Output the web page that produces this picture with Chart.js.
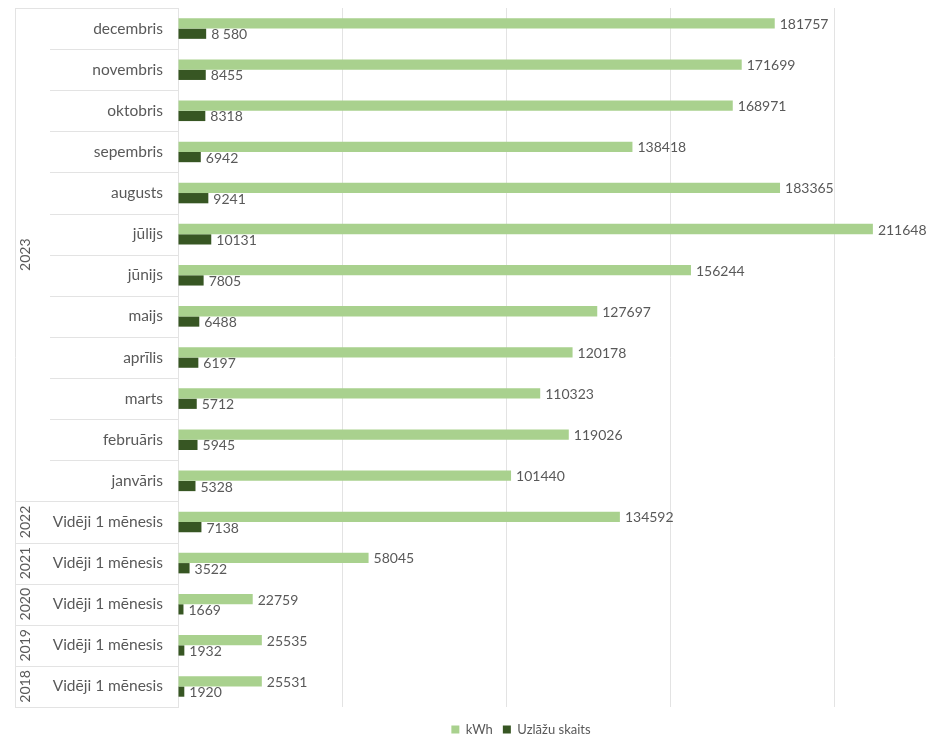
<!DOCTYPE html>
<html>
<head>
<meta charset="utf-8">
<script src="https://cdn.jsdelivr.net/npm/chart.js@4.4.1/dist/chart.umd.min.js"></script>
<style>
  html, body { margin: 0; padding: 0; background: #fff; overflow: hidden; }
  #wrap { width: 933px; height: 742px; }
</style>
</head>
<body>
<div id="wrap"><canvas id="uzlades-chart"></canvas></div>
<script>
const canvasElement = document.getElementById("uzlades-chart");

const months = ["decembris", "novembris", "oktobris", "sepembris", "augusts", "jūlijs", "jūnijs",
    "maijs", "aprīlis", "marts", "februāris", "janvāris",
    "Vidēji 1 mēnesis", "Vidēji 1 mēnesis", "Vidēji 1 mēnesis", "Vidēji 1 mēnesis", "Vidēji 1 mēnesis"];
const kwhValues = [181757, 171699, 168971, 138418, 183365, 211648, 156244, 127697, 120178, 110323, 119026, 101440,
    134592, 58045, 22759, 25535, 25531];
const chargeValues = [8580, 8455, 8318, 6942, 9241, 10131, 7805, 6488, 6197, 5712, 5945, 5328,
    7138, 3522, 1669, 1932, 1920];
const chargeLabels = ["8 580", "8455", "8318", "6942", "9241", "10131", "7805", "6488", "6197", "5712", "5945", "5328",
    "7138", "3522", "1669", "1932", "1920"];
const years = ["2023", "2022", "2021", "2020", "2019", "2018"];
const yearSpans = [12, 1, 1, 1, 1, 1]; // how many rows each year covers
const gridValues = [0, 50000, 100000, 150000, 200000]; // vertical gridlines (axis labels are hidden)

const labelColor = "#595959";
const lineColor = "#e3e3e3";
const fontFamily = "Lato, 'Open Sans', sans-serif";

// value labels at the end of each bar
const valueLabels = {
    id: "valueLabels",
    afterDatasetsDraw(chart) {
        const ctx = chart.ctx;
        ctx.save();
        ctx.font = "14px " + fontFamily;
        ctx.fillStyle = labelColor;
        ctx.textBaseline = "middle";
        ctx.textAlign = "left";
        chart.data.datasets.forEach((ds, di) => {
            chart.getDatasetMeta(di).data.forEach((bar, i) => {
                const text = di === 0 ? String(ds.data[i]) : chargeLabels[i];
                ctx.fillText(text, bar.x + 5, bar.y + 1);
            });
        });
        ctx.restore();
    }
};

// second level of the category axis: years and the separator lines
const yearAxis = {
    id: "yearAxis",
    afterDraw(chart) {
        const ctx = chart.ctx;
        const y = chart.scales.y;
        const area = chart.chartArea;
        const rowH = (y.bottom - y.top) / months.length;
        const outerX = 15;
        const innerX = 50;
        ctx.save();
        ctx.strokeStyle = lineColor;
        ctx.lineWidth = 1;

        let row = 0;
        const groupEdges = [0];
        yearSpans.forEach(span => { row += span; groupEdges.push(row); });

        for (let i = 0; i <= months.length; i++) {
            const py = Math.round(y.getPixelForValue(i) - rowH / 2) + 0.5;
            const startX = groupEdges.includes(i) ? outerX : innerX;
            ctx.beginPath();
            ctx.moveTo(startX, py);
            ctx.lineTo(area.left, py);
            ctx.stroke();
        }
        ctx.beginPath();
        ctx.moveTo(outerX + 0.5, y.top);
        ctx.lineTo(outerX + 0.5, y.bottom);
        ctx.stroke();

        ctx.font = "14px " + fontFamily;
        ctx.fillStyle = labelColor;
        ctx.textAlign = "center";
        ctx.textBaseline = "middle";
        years.forEach((yr, gi) => {
            const first = groupEdges[gi];
            const last = groupEdges[gi + 1] - 1;
            const cy = (y.getPixelForValue(first) + y.getPixelForValue(last)) / 2;
            ctx.save();
            ctx.translate(outerX + 10, cy);
            ctx.rotate(-Math.PI / 2);
            ctx.fillText(yr, 0, 0);
            ctx.restore();
        });
        ctx.restore();
    }
};

// the legend in the original sits a bit left of the plot centre
const legendShift = {
    id: "legendShift",
    afterLayout(chart) {
        if (chart.legend) {
            chart.legend.left -= 28;
            chart.legend.right -= 28;
        }
    }
};

const data = {
    labels: months,
    datasets: [{
        label: "kWh",
        backgroundColor: "#a9d18e",
        data: kwhValues,
        categoryPercentage: 0.5,
        barPercentage: 1.0
    }, {
        label: "Uzlāžu skaits",
        backgroundColor: "#375623",
        data: chargeValues,
        categoryPercentage: 0.5,
        barPercentage: 1.0
    }]
};

const config = {
    type: "bar",
    data: data,
    plugins: [valueLabels, yearAxis, legendShift],
    options: {
        indexAxis: "y",
        responsive: true,
        maintainAspectRatio: false,
        animation: false,
        layout: { padding: { top: 8, right: 13, left: 0, bottom: -4 } },
        plugins: {
            legend: {
                position: "bottom",
                fullSize: false,
                labels: {
                    boxWidth: 8,
                    boxHeight: 8,
                    color: labelColor,
                    font: { family: fontFamily, size: 13 },
                    padding: 10
                }
            },
            tooltip: { enabled: false }
        },
        scales: {
            x: {
                min: 0,
                max: 226000,
                afterBuildTicks: scale => {
                    scale.ticks = gridValues.map(v => ({ value: v }));
                },
                afterFit: scale => { scale.height = 6; },
                ticks: { display: false },
                grid: { color: lineColor, drawTicks: false },
                border: { display: false }
            },
            y: {
                afterFit: scale => {
                    scale.width = 178;
                    scale.paddingTop = 0;
                    scale.paddingBottom = 0;
                },
                grid: { display: false, drawTicks: false },
                border: { display: true, color: lineColor },
                ticks: {
                    color: labelColor,
                    font: { family: fontFamily, size: 15.5 },
                    padding: 15
                }
            }
        }
    }
};

const myChart = new Chart(canvasElement, config);
</script>
</body>
</html>
